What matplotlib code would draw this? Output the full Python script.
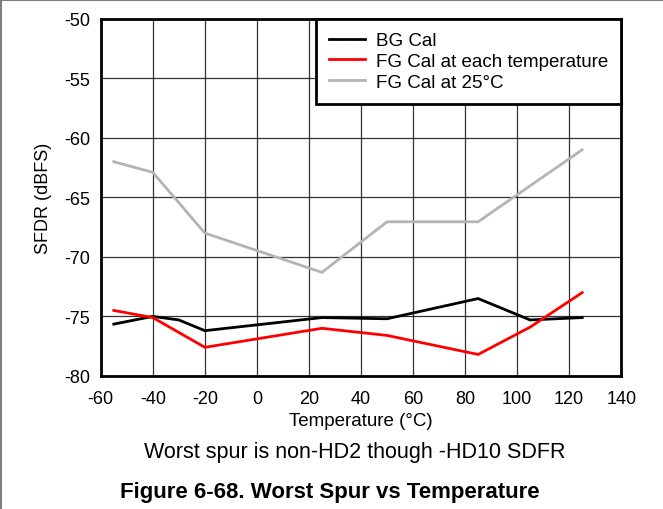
import numpy as np
import matplotlib.pyplot as plt
from matplotlib.lines import Line2D

plt.rcParams['font.family'] = ['Liberation Sans', 'DejaVu Sans']
plt.rcParams['axes.unicode_minus'] = False

# dati
temp_bg = [-55, -40, -30, -20, 25, 50, 85, 105, 125]
sfdr_bg = [-75.65, -75.0, -75.3, -76.2, -75.1, -75.2, -73.5, -75.3, -75.1]

temp_fg = [-55, -40, -20, 25, 50, 85, 105, 125]
sfdr_fg = [-74.5, -75.1, -77.6, -76.0, -76.6, -78.2, -75.9, -73.0]

temp_fg25 = [-55, -40, -20, 25, 50, 85, 125]
sfdr_fg25 = [-62.0, -62.9, -68.0, -71.3, -67.05, -67.05, -61.0]

xticks = np.arange(-60, 141, 20)
yticks = np.arange(-80, -49, 5)

fig = plt.figure(figsize=(6.63, 5.10), dpi=100)
ax = fig.add_axes([0.152, 0.261, 0.785, 0.700])

ax.plot(temp_bg, sfdr_bg, color='black', lw=2, label='BG Cal')
ax.plot(temp_fg, sfdr_fg, color='#ff0000', lw=2, label='FG Cal at each temperature')
ax.plot(temp_fg25, sfdr_fg25, color='#b4b4b4', lw=2, label='FG Cal at 25°C')

ax.set_xlim(-60, 140)
ax.set_ylim(-80, -50)
ax.set_xticks(xticks)
ax.set_yticks(yticks)
ax.tick_params(length=0, labelsize=13)
ax.tick_params(axis='x', pad=10)
ax.tick_params(axis='y', pad=7.5)
ax.grid(True, color='black', lw=0.9, alpha=0.8)
for s in ax.spines.values():
    s.set_linewidth(2)

ax.set_xlabel('Temperature (°C)', fontsize=13.5, labelpad=3.5)
ax.set_ylabel('SFDR (dBFS)', fontsize=13, labelpad=8.5)

leg = ax.legend(loc='upper right', borderaxespad=0, fontsize=13.5, fancybox=False,
                framealpha=1, edgecolor='black', handlelength=1.9, handletextpad=0.6,
                labelspacing=0.2, borderpad=0.7)
leg.get_frame().set_linewidth(2)

fig.text(0.535, 0.113, 'Worst spur is non-HD2 though -HD10 SDFR', fontsize=15.5, ha='center', va='center')
fig.text(0.498, 0.035, 'Figure 6-68. Worst Spur vs Temperature', fontsize=16, weight='bold',
         ha='center', va='center')

# bordo della pagina (solo sopra e a sinistra)
fig.add_artist(Line2D([0.002, 0.002], [0, 0.998], color='#808080', lw=1.5))
fig.add_artist(Line2D([0, 1], [0.998, 0.998], color='#808080', lw=1.5))

fig.savefig('out.png', dpi=100)
